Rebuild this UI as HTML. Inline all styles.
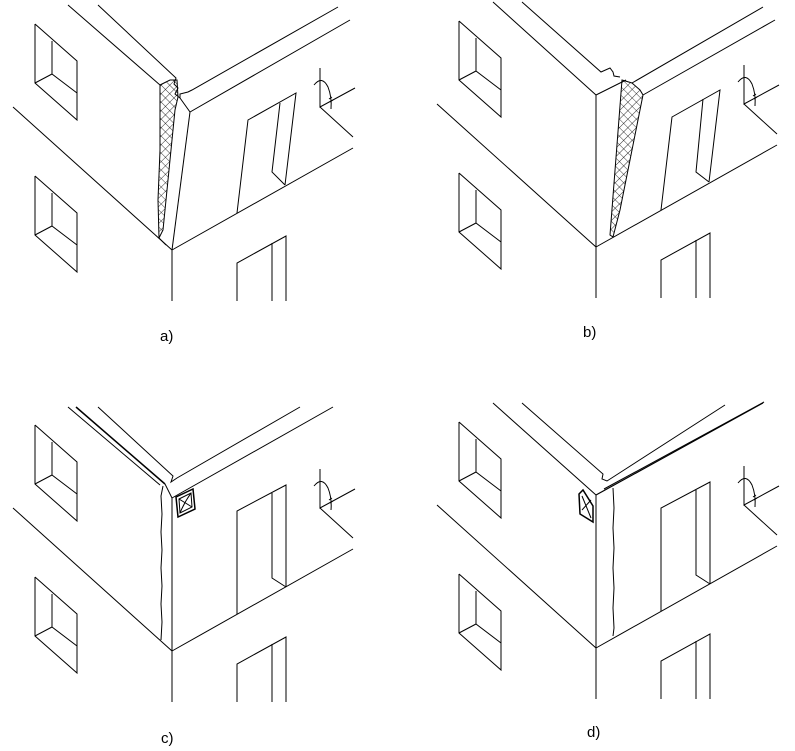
<!DOCTYPE html>
<html><head><meta charset="utf-8"><style>
html,body{margin:0;padding:0;background:#fff;}
svg{display:block;}
text{font-family:"Liberation Sans",sans-serif;font-size:15px;fill:#000;}
</style></head><body>
<svg width="795" height="751" viewBox="0 0 795 751" xmlns="http://www.w3.org/2000/svg">
<defs>
<pattern id="hx" width="6" height="6" patternUnits="userSpaceOnUse" patternTransform="rotate(45)">
<path d="M0,0 V6 M0,0 H6" stroke="#000" stroke-width="0.8" fill="none"/>
</pattern>
<g id="common" fill="none" stroke="#000" stroke-width="1">
<polyline points="35,425 35,484 77,521 77,462 35,425"/>
<polyline points="52,442 52,475 77,494"/><line x1="35" y1="484" x2="52" y2="475"/>
<polyline points="35,577 35,636 77,673 77,614 35,577"/>
<polyline points="52,594 52,627 77,646"/><line x1="35" y1="636" x2="52" y2="627"/>
<line x1="13" y1="508" x2="172" y2="651"/>
<line x1="172" y1="651" x2="172" y2="702"/>
<line x1="172" y1="651" x2="353" y2="549"/>
<polyline points="237,702 237,664 286,637 286,702"/>
<line x1="272" y1="644" x2="272" y2="702"/>
<polyline points="320,469 320,508 355,489"/>
<line x1="320" y1="508" x2="353" y2="538"/>
<path d="M314,486 Q322,476 328,488 Q332,498 331,510 M329,500 l3,-2 M330,503 l3,-2"/>
</g>
<g id="cwall" fill="none" stroke="#000" stroke-width="1">
<line x1="172" y1="498" x2="172" y2="651"/>
<polyline points="237,614 237,511 286,485 286,587"/>
<polyline points="272,493 272,578 286,587"/>
</g>
</defs>

<!-- panel a -->
<use href="#common" transform="translate(0,-401)"/>
<g fill="none" stroke="#000" stroke-width="1">
<line x1="68" y1="5" x2="160" y2="85"/>
<polyline points="98,5 176,78 174,84 178,88 175,94 180,98 180,94 188,92 192,90 338,7"/>
<polygon points="160,85 170,80 177,80 178,97 175,110 170,160 163,230 159,238 158,200 160,150" fill="url(#hx)"/>
<polyline points="180,98 190,112 350,20"/>
<line x1="190" y1="112" x2="172" y2="250"/>
<line x1="159" y1="238" x2="166" y2="245"/>
<polyline points="237,213 248,120 296,93 285,185"/>
<polyline points="280,103 272,172 285,185"/>
</g>
<text x="160" y="341">a)</text>

<!-- panel b -->
<use href="#common" transform="translate(424,-404)"/>
<g fill="none" stroke="#000" stroke-width="1">
<line x1="493" y1="2" x2="596" y2="95"/>
<polyline points="522,2 601,72 610,68 613,72 614,76 620,77"/>
<line x1="596" y1="95" x2="626" y2="80"/>
<line x1="596" y1="95" x2="596" y2="247"/>
<polygon points="622,80 632,83 640,90 643,95 630,160 620,210 613,237 610,235" fill="url(#hx)"/>
<line x1="632" y1="83" x2="763" y2="7"/>
<line x1="643" y1="95" x2="775" y2="20"/>
<polyline points="661,210 672,117 720,90 709,182"/>
<polyline points="703,99 696,172 709,182"/>
</g>
<text x="583" y="337">b)</text>

<!-- panel c -->
<use href="#common"/>
<use href="#cwall"/>
<g fill="none" stroke="#000" stroke-width="1">
<line x1="68" y1="407" x2="160" y2="485"/>
<line x1="76" y1="407" x2="165" y2="484" stroke-width="1.5"/>
<polyline points="98,407 173,476 171,482 177,478 300,407"/>
<line x1="165" y1="484" x2="172" y2="498"/>
<line x1="172" y1="498" x2="333" y2="407"/>
<path d="M163,486 l-2,10 l1,18 l-1,18 l1,18 l-1,18 l1,18 l-1,18 l1,18 l-1,18"/>
<polygon points="176,497 193,489 195,509 178,517" stroke-width="1.5"/>
<polygon points="179,499 191,493 192,507 180,513"/>
<line x1="179" y1="499" x2="192" y2="507"/><path d="M191,493 Q184,503 180,513"/>
</g>
<text x="161" y="743">c)</text>

<!-- panel d -->
<use href="#common" transform="translate(424,-3)"/>
<use href="#cwall" transform="translate(424,-3)"/>
<g fill="none" stroke="#000" stroke-width="1">
<line x1="493" y1="403" x2="596" y2="495"/>
<polyline points="522,403 603,474 602,479 607,481 725,405"/>
<line x1="596" y1="495" x2="763" y2="403" stroke-width="1.2"/>
<line x1="604" y1="489" x2="764" y2="402"/>
<path d="M613,488 l1,20 l-1,20 l1,20 l-1,20 l1,20 l-1,20 l1,20 l-1,8"/>
<polygon points="579,494 583,490 593,506 593,522 580,514" stroke-width="1.5"/>
<line x1="582" y1="496" x2="591" y2="518"/><line x1="582" y1="510" x2="591" y2="500"/>
</g>
<text x="587" y="737">d)</text>
</svg>
</body></html>
